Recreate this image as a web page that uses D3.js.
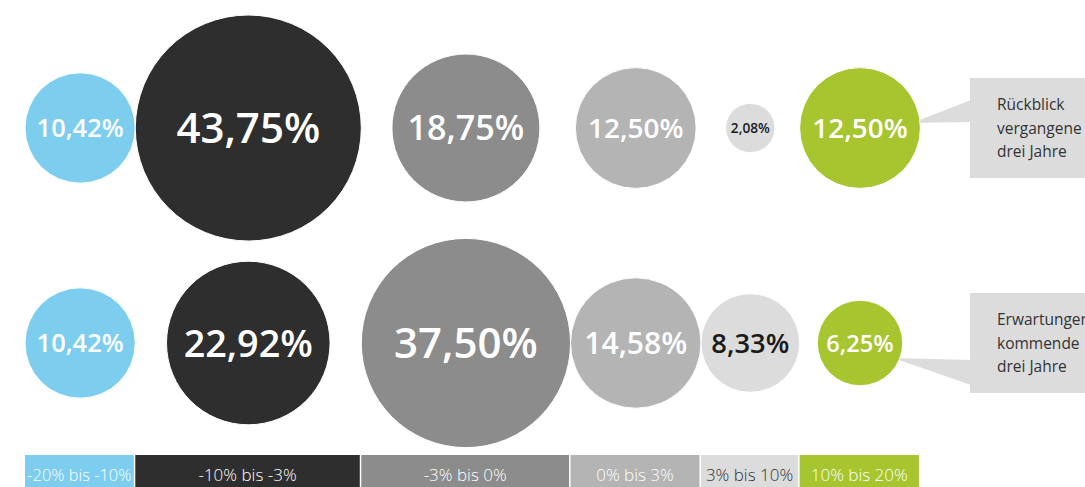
<!DOCTYPE html>
<html>
<head>
<meta charset="utf-8">
<script src="https://cdn.jsdelivr.net/npm/d3@7"></script>
<style>
  html, body { margin: 0; padding: 0; background: #fff; }
  svg { display: block; }
</style>
</head>
<body>
<svg id="chart" width="1085" height="487"></svg>
<script>
// Return bands (legend), one per column
const categories = ["-20% bis -10%", "-10% bis -3%", "-3% bis 0%", "0% bis 3%", "3% bis 10%", "10% bis 20%"];
// Share of answers per return band, in percent
const rueckblick  = [10.42, 43.75, 18.75, 12.50, 2.08, 12.50];
const erwartungen = [10.42, 22.92, 37.50, 14.58, 8.33, 6.25];
const seriesNames = ["rueckblick", "erwartungen"];
const calloutLines = [
  ["Rückblick", "vergangene", "drei Jahre"],
  ["Erwartungen", "kommende", "drei Jahre"]
];

const fillColors = ["#7dcdee", "#2e2e2e", "#8c8c8c", "#b4b4b4", "#dcdcdc", "#a6c52f"];
const textColors = ["#ffffff", "#ffffff", "#ffffff", "#ffffff", "#1a1a1a", "#ffffff"];
const legendTextColors = ["#ffffff", "#ffffff", "#ffffff", "#ffffff", "#333333", "#ffffff"];

const svg = d3.select("#chart");
const series = [rueckblick, erwartungen];
const fmt = v => d3.format(".2f")(v).replace(".", ",") + "%";

// Bubble area is proportional to the share
const maxVal = d3.max(series.flat());
const r = d3.scaleSqrt().domain([0, maxVal]).range([0, 113]);

// Each column is as wide as its largest bubble
const colWidths = categories.map((c, i) => 2 * r(d3.max(series, s => s[i])));
const left = 25;
const colStart = d3.cumsum([0, ...colWidths]).map(v => v + left);
const x = i => colStart[i] + colWidths[i] / 2;

const y = d3.scalePoint().domain(seriesNames).range([128, 343]);

const color = d3.scaleOrdinal().domain(categories).range(fillColors);
const tColor = d3.scaleOrdinal().domain(categories).range(textColors);

// Callout boxes at the right edge
const callouts = svg.append("g");
seriesNames.forEach((name, si) => {
  const cy = y(name);
  const lastIdx = categories.length - 1;
  const cx = x(lastIdx), rr = r(series[si][lastIdx]);
  const g = callouts.append("g");
  g.append("rect").attr("x", 970).attr("y", cy - 50).attr("width", 140).attr("height", 100).attr("fill", "#dcdcdc");
  const pts = si === 0
    ? [[971, cy - 28], [cx + rr * 0.86, cy - 5], [971, cy - 6]]
    : [[971, cy + 17], [cx + rr * 0.78, cy + 15], [971, cy + 42]];
  g.append("path").attr("d", d3.line()(pts) + "Z").attr("fill", "#dcdcdc");
  calloutLines[si].forEach((t, li) => {
    g.append("text").attr("x", 997).attr("y", cy - 18 + li * 23.5)
      .attr("font-family", "'Open Sans', sans-serif").attr("font-size", 15.5)
      .attr("fill", "#333").text(t);
  });
});

// Bubbles
seriesNames.forEach((name, si) => {
  const g = svg.append("g");
  const nodes = g.selectAll("g").data(series[si]).join("g")
    .attr("transform", (d, i) => `translate(${x(i)},${y(name)})`);
  nodes.append("circle").attr("r", d => r(d))
    .attr("fill", (d, i) => color(categories[i]))
    .attr("stroke", "#fff").attr("stroke-width", 1);
  nodes.append("text")
    .attr("text-anchor", "middle").attr("dy", "0.36em")
    .attr("font-family", "'Open Sans', sans-serif").attr("font-weight", 600)
    .attr("font-size", 100)
    .attr("fill", (d, i) => tColor(categories[i]))
    .text(d => fmt(d))
    .each(function (d) {
      // fit the label inside its bubble
      const w = this.getComputedTextLength();
      const target = 2 * r(d) * 0.79;
      const fs = Math.min(42, 100 * target / w);
      d3.select(this).attr("font-size", fs);
    });
});

// Legend bands along the bottom
const legend = svg.append("g");
categories.forEach((c, i) => {
  legend.append("rect")
    .attr("x", colStart[i]).attr("y", 455)
    .attr("width", colWidths[i] - 1.5).attr("height", 40)
    .attr("fill", color(c));
  const t = legend.append("text")
    .attr("x", x(i) - 0.75).attr("y", 480.5)
    .attr("text-anchor", "middle")
    .attr("font-family", "'Open Sans', sans-serif").attr("font-weight", 300)
    .attr("font-size", 17)
    .attr("fill", legendTextColors[i])
    .text(c);
  // keep the label within its band
  const w = t.node().getComputedTextLength();
  const maxW = colWidths[i] - 6;
  if (w > maxW) t.attr("font-size", 17 * maxW / w);
});
</script>
</body>
</html>
